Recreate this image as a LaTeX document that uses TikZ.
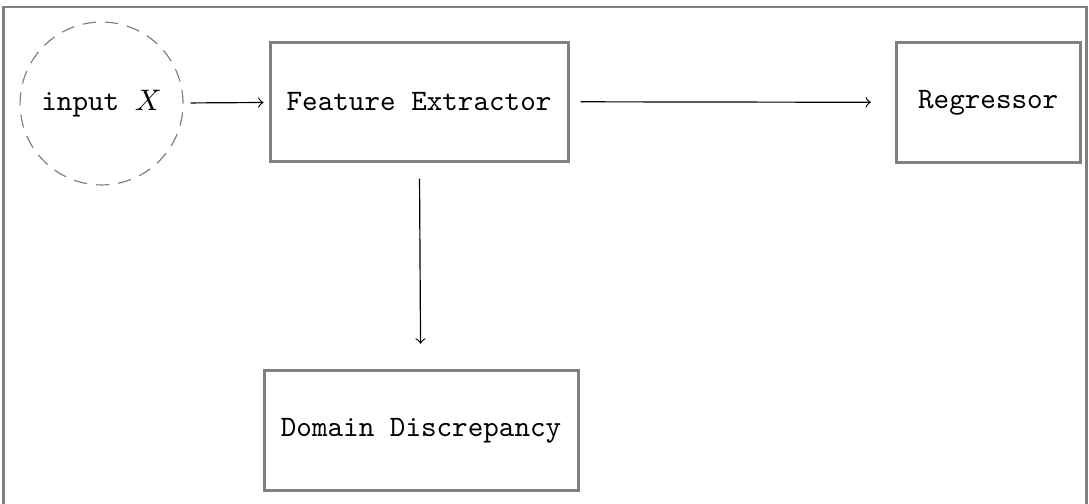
\documentclass[tikz,border=0pt]{standalone}
\begin{document}
\begin{tikzpicture}[font=\ttfamily,
    block/.style={draw=gray, line width=1pt, align=center},
    source/.style={circle, draw=gray, dash pattern=on 4.5pt off 3pt, inner sep=0pt, minimum size=1.93cm}]
  \clip (0,0) rectangle (12.90,-5.96);
  \draw[gray, line width=1pt] (0.036,-0.083) rectangle (12.867,-6.4);

  % nodes
  \node[source] (input) at (1.203,-1.226) {input $X$};
  \node[block, minimum width=3.53cm, minimum height=1.41cm] (extractor) at (4.964,-1.203) {Feature Extractor};
  \node[block, minimum width=2.18cm, minimum height=1.43cm] (regressor) at (11.706,-1.214) {Regressor};
  \node[block, minimum width=3.72cm, minimum height=1.43cm] (discrepancy) at (4.988,-5.10) {Domain Discrepancy};

  % connectors
  \draw[->, shorten <=2.4pt, shorten >=1.7pt] (input) -- (extractor);
  \draw[->, shorten <=3.7pt, shorten >=8pt] (extractor) -- (regressor);
  \draw[->, shorten <=5.4pt, shorten >=8.4pt] (extractor) -- (discrepancy);
\end{tikzpicture}
\end{document}
